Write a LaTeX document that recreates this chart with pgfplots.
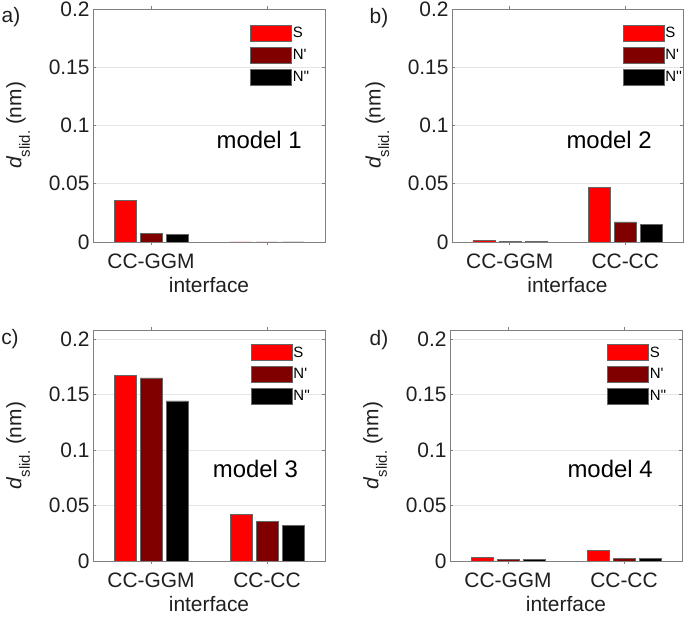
\documentclass[border=0pt]{standalone}
\usepackage{pgfplots}
\pgfplotsset{compat=1.18}
\usepackage{fontspec}
\setmainfont{Liberation Sans}
\newfontfamily\legfont{Liberation Sans}[Ligatures=TeXOff]
\definecolor{cS}{rgb}{1,0,0}
\definecolor{cNa}{rgb}{0.5,0,0}
\definecolor{cNb}{rgb}{0,0,0}
\definecolor{gridc}{gray}{0.9}
\definecolor{axc}{gray}{0.5}
\definecolor{txt}{gray}{0.12}
\newcommand{\ylab}{{\itshape d}\raisebox{-0.4em}{\fontsize{15}{15}\selectfont slid.}\ (nm)}
\pgfplotsset{
  panel/.style={
    scale only axis, width=232bp, height=233bp,
    xmin=0.5, xmax=2.5, ymin=0, ymax=0.2,
    xtick={1,2}, xticklabels={CC-GGM,CC-CC},
    ytick={0,0.05,0.1,0.15,0.2}, yticklabels={0,0.05,0.1,0.15,0.2},
    tick align=inside, major tick length=3bp,
    ymajorgrids, grid style={gridc, line width=0.6bp},
    axis line style={axc, line width=0.6bp},
    tick style={axc, line width=0.6bp},
    tick label style={font=\fontsize{21}{21}\selectfont, text=txt},
    xticklabel style={yshift=-5bp},
    xlabel={interface},
    xlabel style={at={(axis description cs:0.5,-0.185)}, anchor=center, font=\fontsize{21}{21}\selectfont, text=txt},
    ylabel={\ylab},
    ylabel style={at={(axis description cs:-0.323,0.5)}, anchor=center, font=\fontsize{21}{21}\selectfont, text=txt},
    ybar=4bp, bar width=22bp,
    legend image code/.code={\draw[#1] (0bp,-8bp) rectangle (41bp,8bp);},
    legend cell align=left,
    legend style={draw=none, fill=none, inner sep=0pt, outer sep=0pt,
      font=\legfont\fontsize{15}{15}\selectfont, row sep=5.5bp,
      nodes={inner sep=1.2bp, text=black}},
  },
  barS/.style={fill=cS, draw=black!60, line width=0.5bp},
  barNa/.style={fill=cNa, draw=black!60, line width=0.5bp},
  barNb/.style={fill=cNb, draw=black!60, line width=0.5bp},
}
\begin{document}
\begin{tikzpicture}[x=1bp,y=1bp]
\useasboundingbox (0,0) rectangle (685,618);

% a)
\begin{axis}[panel, at={(93bp,376bp)}, anchor=south west,
  xticklabels={CC-GGM,{}},
  legend style={at={(0.677,0.933)}, anchor=north west}]
\addplot[barS] coordinates {(1,0.0355) (2,0.0002)};
\addplot[barNa] coordinates {(1,0.0071) (2,0.0002)};
\addplot[barNb] coordinates {(1,0.0063) (2,0.0002)};
\legend{S,N',N''}
\node[font=\fontsize{24}{24}\selectfont, text=black] at (rel axis cs:0.716,0.438) {model 1};
\end{axis}

% b)
\begin{axis}[panel, at={(452bp,376bp)}, anchor=south west, width=231bp,
  legend style={at={(0.739,0.933)}, anchor=north west}]
\addplot[barS] coordinates {(1,0.0017) (2,0.0469)};
\addplot[barNa] coordinates {(1,0.0004) (2,0.0172)};
\addplot[barNb] coordinates {(1,0.0004) (2,0.0154)};
\legend{S,N',N''}
\node[font=\fontsize{24}{24}\selectfont, text=black] at (rel axis cs:0.68,0.438) {model 2};
\end{axis}

% c)
\begin{axis}[panel, at={(93bp,57bp)}, anchor=south west, height=231bp, ymax=0.208,
  legend style={at={(0.68,0.938)}, anchor=north west}]
\addplot[barS] coordinates {(1,0.167) (2,0.0417)};
\addplot[barNa] coordinates {(1,0.1649) (2,0.0360)};
\addplot[barNb] coordinates {(1,0.1441) (2,0.0321)};
\legend{S,N',N''}
\node[font=\fontsize{24}{24}\selectfont, text=black] at (rel axis cs:0.70,0.398) {model 3};
\end{axis}

% d)
\begin{axis}[panel, at={(450bp,57bp)}, anchor=south west, height=231bp, ymax=0.208,
  legend style={at={(0.677,0.938)}, anchor=north west}]
\addplot[barS] coordinates {(1,0.0033) (2,0.0096)};
\addplot[barNa] coordinates {(1,0.0012) (2,0.0024)};
\addplot[barNb] coordinates {(1,0.0012) (2,0.0024)};
\legend{S,N',N''}
\node[font=\fontsize{24}{24}\selectfont, text=black] at (rel axis cs:0.69,0.398) {model 4};
\end{axis}

\node[font=\fontsize{21}{21}\selectfont, text=txt] at (11,601) {a)};
\node[font=\fontsize{21}{21}\selectfont, text=txt] at (379,600) {b)};
\node[font=\fontsize{21}{21}\selectfont, text=txt] at (10,279) {c)};
\node[font=\fontsize{21}{21}\selectfont, text=txt] at (379,278) {d)};
\end{tikzpicture}
\end{document}
